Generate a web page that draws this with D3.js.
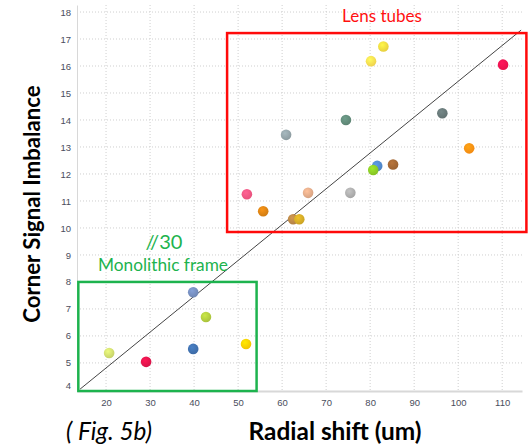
<!DOCTYPE html>
<html><head><meta charset="utf-8">
<script src="https://cdn.jsdelivr.net/npm/d3@7"></script>
<style>body{margin:0;background:#fff}svg{display:block}</style>
</head><body>
<svg id="c" width="531" height="448"></svg>
<script>
const xTicks = [20,30,40,50,60,70,80,90,100,110];
const yTicks = [4,5,6,7,8,9,10,11,12,13,14,15,16,17,18];
const shiftX = [39.8,42.7,20.7,29.1,39.8,51.8, 60.9,74.5,83.0,80.2,110.2,96.4,102.5,81.6,80.7,85.2,52.0,65.9,75.5,55.7,62.5,63.9];
const imbalY = [7.62,6.7,5.37,5.04,5.52,5.7, 13.45,14.0,16.72,16.18,16.05,14.25,12.95,12.3,12.15,12.35,11.25,11.3,11.3,10.62,10.32,10.32];
const colors = ["#6f86b4","#a9c23c","#c6d26a","#d51448","#3d6ba6","#f2c400",
  "#8c9ba0","#5d8474","#e7cf3e","#efd24e","#e8124c","#627272","#f28a12","#4c82c2","#84c224","#9a6232","#e8527c","#d6a282","#a4a4a4","#d07c12","#b08044","#c9a224"];
const diagX = [14.1,114.3];
const diagY = [4.03,17.33];
// annotation boxes in data units
const lensBox = {x0:47.5, x1:115.5, y0:9.85, y1:17.22};
const monoBox = {x0:13.7, x1:54.2, y0:3.96, y1:8.0};

const svg = d3.select("#c");
const x = d3.scaleLinear().domain([13.4,114.5]).range([77,522]);
const y = d3.scaleLinear().domain([3.96,18.26]).range([391,5]);

// grid
svg.append("g").selectAll("line").data(xTicks).join("line")
  .attr("x1",d=>x(d)).attr("x2",d=>x(d)).attr("y1",5).attr("y2",391)
  .attr("stroke","#cfcfcf").attr("stroke-dasharray","1,2");
svg.append("g").selectAll("line").data(yTicks.filter(d=>d>4)).join("line")
  .attr("x1",77).attr("x2",522).attr("y1",d=>y(d)).attr("y2",d=>y(d))
  .attr("stroke","#cfcfcf").attr("stroke-dasharray","1,2");

// axes
const xa = svg.append("g").attr("transform","translate(0,391)")
  .call(d3.axisBottom(x).tickValues(xTicks).tickSize(0).tickPadding(8));
xa.select(".domain").attr("stroke","#d8d8d8").attr("stroke-width",2);
const ya = svg.append("g").attr("transform","translate(77,0)")
  .call(d3.axisLeft(y).tickValues(yTicks).tickSize(0).tickPadding(6));
ya.select(".domain").attr("stroke","#d8d8d8");
svg.selectAll(".tick text").attr("font-family","Liberation Sans, Arial").attr("font-size",9.5).attr("fill","#4a4d5c");
ya.selectAll(".tick text").filter(d=>d===4).attr("dy","-0.1em");

// diagonal
svg.append("line").attr("x1",x(diagX[0])).attr("y1",y(diagY[0])).attr("x2",x(diagX[1])).attr("y2",y(diagY[1]))
  .attr("stroke","#444").attr("stroke-width",1);

// points
const defs = svg.append("defs");
colors.forEach((c,i)=>{
  const g = defs.append("radialGradient").attr("id","g"+i).attr("cx","40%").attr("cy","35%").attr("r","65%");
  g.append("stop").attr("offset","0%").attr("stop-color",d3.color(c).brighter(0.5));
  g.append("stop").attr("offset","100%").attr("stop-color",c);
});
svg.append("g").selectAll("circle").data(shiftX.map((d,i)=>i)).join("circle")
  .attr("cx",i=>x(shiftX[i])).attr("cy",i=>y(imbalY[i])).attr("r",5.3)
  .attr("fill",i=>"url(#g"+i+")");

// boxes
svg.append("rect").attr("x",x(lensBox.x0)).attr("y",y(lensBox.y1))
  .attr("width",x(lensBox.x1)-x(lensBox.x0)).attr("height",y(lensBox.y0)-y(lensBox.y1))
  .attr("fill","none").attr("stroke","#ff0a0a").attr("stroke-width",2.5);
svg.append("rect").attr("x",x(monoBox.x0)).attr("y",y(monoBox.y1))
  .attr("width",x(monoBox.x1)-x(monoBox.x0)).attr("height",y(monoBox.y0)-y(monoBox.y1))
  .attr("fill","none").attr("stroke","#1db34e").attr("stroke-width",2.5);

// helper: size text to a target width
function fit(sel, w){
  const n = sel.node(); const fs = parseFloat(sel.attr("font-size"));
  const cur = n.getBBox().width; if(cur>0) sel.attr("font-size", (fs*w/cur).toFixed(2));
  return sel;
}
function txt(xp, yp, s, opts){
  const t = svg.append("text").attr("x",xp).attr("y",yp).attr("text-anchor",opts.anchor||"middle")
    .attr("font-family","Lato, sans-serif").attr("font-size",16).attr("fill",opts.fill||"#000")
    .attr("font-weight",opts.bold?"bold":"normal").attr("font-style",opts.italic?"italic":"normal")
    .text(s);
  if(opts.rot) t.attr("transform",`rotate(-90,${xp},${yp})`);
  return fit(t, opts.w);
}
txt(382, 22, "Lens tubes", {fill:"#ff1010", w:80});
txt(164, 249, "//30", {fill:"#1db34e", w:37});
txt(163, 271, "Monolithic frame", {fill:"#1db34e", w:130});
txt(40, 204, "Corner Signal Imbalance", {bold:true, rot:true, w:238});
txt(335, 440, "Radial shift (um)", {bold:true, w:173});
txt(66, 440, "( Fig. 5b)", {italic:true, anchor:"start", w:86});
</script>
</body></html>
